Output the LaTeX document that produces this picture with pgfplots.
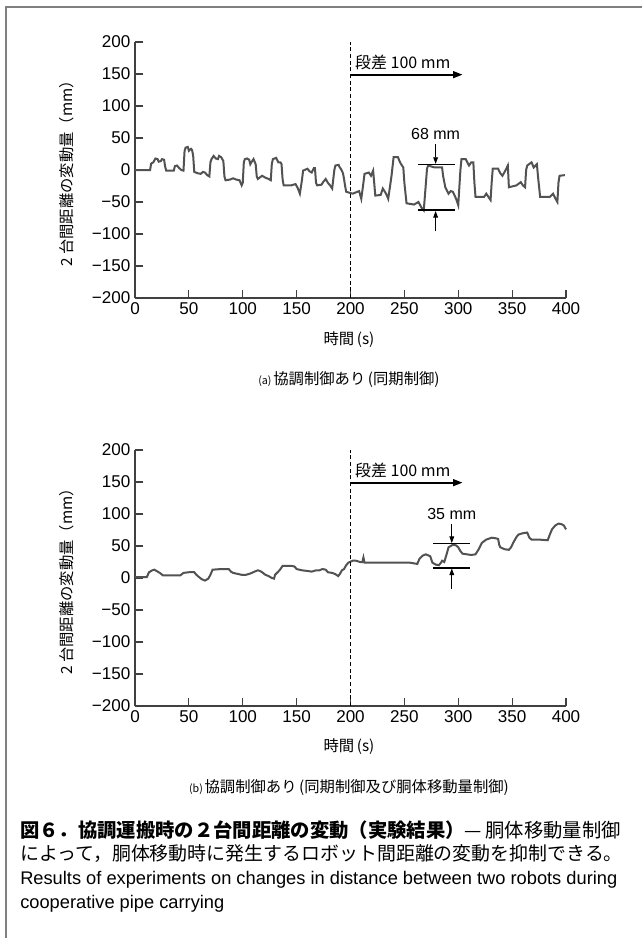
\documentclass[border=0pt]{standalone}
\usepackage{pgfplots}
\pgfplotsset{compat=1.18}
\usepackage{fontspec}
\usetikzlibrary{arrows.meta}
\setmainfont{Liberation Sans}
\newfontfamily\jp{Noto Sans CJK JP}

% series (a): synchronous control only
\pgfplotstableread{
t y
0 0
14 0
15 10
17 12
19 18
21 17
22 13
24 14
25 17
27 16
28 5
29 -1
36 -1
37 6
39 7
41 3
43 0
45 -1
46 30
47 35
49 36
50 30
52 33
53 31
54 22
55 -3
58 -5
61 -6
63 -3
65 -4
67 -8
69 -10
70 12
71 17
73 22
75 18
77 17
78 22
80 20
82 14
83 -10
84 -16
88 -15
91 -13
94 -15
97 -16
99 -24
100 -20
101 12
102 17
104 18
106 16
107 9
108 12
110 17
112 9
113 -10
114 -14
118 -9
121 -12
124 -14
126 -16
127 10
128 17
131 19
133 12
135 12
136 9
137 -15
138 -24
145 -24
149 -22
151 -28
153 -37
155 -15
156 -1
160 2
162 -2
164 -4
166 3
167 3
168 -20
169 -24
173 -23
175 -18
177 -14
179 -20
181 -24
183 -29
185 0
186 7
189 8
190 4
191 2
193 -5
194 -14
195 -25
196 -34
202 -37
205 -35
208 -33
210 -45
212 -20
213 -6
217 -4
219 -9
221 -1
222 -20
223 -40
228 -39
230 -29
233 -37
235 -45
238 -10
240 20
244 20
246 12
247 9
249 4
250 -20
252 -52
259 -54
263 -50
266 -59
268 -63
270 -20
271 2
272 7
278 4
285 4
286 -10
288 -27
291 -37
293 -33
295 -34
298 -45
300 -55
302 0
303 17
307 17
309 10
310 7
312 12
314 12
315 -20
316 -42
324 -42
326 -37
328 -42
330 -47
331 -20
332 2
337 2
339 -5
341 -9
344 0
346 7
347 -27
354 -24
358 -19
360 -24
362 -27
363 0
364 7
368 12
370 4
373 9
374 -10
376 -42
385 -42
388 -37
390 -44
392 -50
393 -20
394 -9
399 -8
}\dataA

% series (b): synchronous control and body movement control
\pgfplotstableread{
t y
0 1.5
11 1.5
13 9
16 12
18 13
21 10
23 8
26 4
42 4
45 8
50 9
55 9
57 5
59 2
62 -2
65 -4
68 -1
70 5
72 13
80 14
87 14
89 10
91 8
99 5
103 5
107 7
111 10
114 12
116 11
118 9
121 5
124 3
127 0
129 -1
130 5
133 10
135 14
137 19
145 19
148 18
150 14
155 12
160 11
164 10
168 12
171 12
174 14
177 13
179 9
183 8
186 6
188.6 3
190 6
192 12
194 14
196 20
198 24
202 27
205 27
207 26
209 25
211 25
212 32
213 24
255 24
262 22
264 30
267 35
270 37
274 34
276 24
279 21
282 20
284 24
285 27
287 25
289 36
291 48
295 52
298 51
300 48
302 42
304 38
308 37
312 36
316 37
319 45
322 55
326 60
331 63
335 62
337 61
338 52
339 48
343 45
347 44
349 48
351 55
354 64
356 68
360 70
364 71
366 63
368 60
375 60
383 59
385 68
387 76
390 82
393 85
396 84
398 82
400 76
}\dataB

\tikzset{
  sig/.style={line width=1.5pt, black!68},
  mark200/.style={densely dashed, line width=0.5pt, black},
}
\pgfplotsset{
  panel/.style={
    anchor=south west,
    scale only axis, width=323.25pt, height=192pt,
    xmin=0, xmax=400, ymin=-200, ymax=200,
    axis lines*=left,
    axis line style={line width=1pt, black!75},
    tick align=inside, major tick length=6pt,
    tick style={line width=0.8pt, black!75},
    xtick={0,50,...,400},
    ytick={-200,-150,...,200},
    yticklabels={−200,−150,−100,−50,0,50,100,150,200},
    ticklabel style={font=\fontsize{12.8}{12.8}\selectfont},
    /pgf/number format/assume math mode=true,
    clip=false,
  },
}

\begin{document}
\begin{tikzpicture}
\path[use as bounding box] (0,0) rectangle (481.5pt,-703.5pt);
\draw[line width=1.5pt, black!50] (481.5pt,-5.25pt) -- (4.5pt,-5.25pt) -- (4.5pt,-703.5pt);

% (a)
\begin{axis}[panel, at={(101.25pt,-223.5pt)}]
\addplot[sig] table[x=t,y=y] {\dataA};
\draw[mark200] (axis cs:200,-200) -- (axis cs:200,200);
\draw[line width=1.4pt, -{Triangle[length=7pt,width=5pt]}] (axis cs:200,149) -- (axis cs:304,149);
\node[anchor=west, font=\jp\fontsize{12}{12}\selectfont, inner sep=0pt] at (axis cs:204,168) {段差 100 mm};
\node[font=\fontsize{12}{12}\selectfont, inner sep=0pt] at (axis cs:279,57) {68 mm};
\draw[line width=0.6pt] (axis cs:263,9) -- (axis cs:297,9);
\draw[line width=1.4pt] (axis cs:263,-63) -- (axis cs:297,-63);
\draw[line width=0.7pt, -{Triangle[length=5pt,width=3.5pt]}] (axis cs:279,40) -- (axis cs:279,9.5);
\draw[line width=0.7pt, -{Triangle[length=5pt,width=3.5pt]}] (axis cs:279,-96) -- (axis cs:279,-64);
\end{axis}

% (b)
\begin{axis}[panel, at={(101.25pt,-529.5pt)}]
\addplot[sig] table[x=t,y=y] {\dataB};
\draw[mark200] (axis cs:200,-200) -- (axis cs:200,200);
\draw[line width=1.4pt, -{Triangle[length=7pt,width=5pt]}] (axis cs:200,149) -- (axis cs:304,149);
\node[anchor=west, font=\jp\fontsize{12}{12}\selectfont, inner sep=0pt] at (axis cs:204,168) {段差 100 mm};
\node[font=\fontsize{12}{12}\selectfont, inner sep=0pt] at (axis cs:294,100) {35 mm};
\draw[line width=0.6pt] (axis cs:277,54) -- (axis cs:311,54);
\draw[line width=1.4pt] (axis cs:277,16) -- (axis cs:311,16);
\draw[line width=0.7pt, -{Triangle[length=5pt,width=3.5pt]}] (axis cs:294,85) -- (axis cs:294,54.5);
\draw[line width=0.7pt, -{Triangle[length=5pt,width=3.5pt]}] (axis cs:294,-17) -- (axis cs:294,15);
\end{axis}

% labels
\begin{scope}[x=0.75pt, y=-0.75pt, every node/.style={inner sep=0pt}]
\node[rotate=90, font=\jp\fontsize{11.5}{11.5}\selectfont] at (67,170) {2 台間距離の変動量（mm）};
\node[font=\jp\fontsize{11.5}{11.5}\selectfont] at (349,340) {時間\,(s)};
\node[font=\jp\fontsize{11.5}{11.5}\selectfont] at (349,380) {\fontsize{8}{8}\selectfont(a)\,\fontsize{11.5}{11.5}\selectfont 協調制御あり\,(同期制御)};
\node[rotate=90, font=\jp\fontsize{11.5}{11.5}\selectfont] at (67,578) {2 台間距離の変動量（mm）};
\node[font=\jp\fontsize{11.5}{11.5}\selectfont] at (349,747) {時間\,(s)};
\node[font=\jp\fontsize{11.5}{11.5}\selectfont] at (349,788) {\fontsize{8}{8}\selectfont(b)\,\fontsize{11.5}{11.5}\selectfont 協調制御あり\,(同期制御及び胴体移動量制御)};
\node[anchor=west, font=\jp\fontsize{14.5}{14.5}\selectfont] at (20,830) {{\bfseries 図６．協調運搬時の２台間距離の変動（実験結果）}—\,胴体移動量制御};
\node[anchor=west, font=\jp\fontsize{14.2}{14.2}\selectfont] at (20,854) {によって，胴体移動時に発生するロボット間距離の変動を抑制できる。};
\node[anchor=west, font=\fontsize{13.7}{13.7}\selectfont] at (20,880) {Results of experiments on changes in distance between two robots during};
\node[anchor=west, font=\fontsize{13.7}{13.7}\selectfont] at (20,904) {cooperative pipe carrying};
\end{scope}
\end{tikzpicture}
\end{document}
